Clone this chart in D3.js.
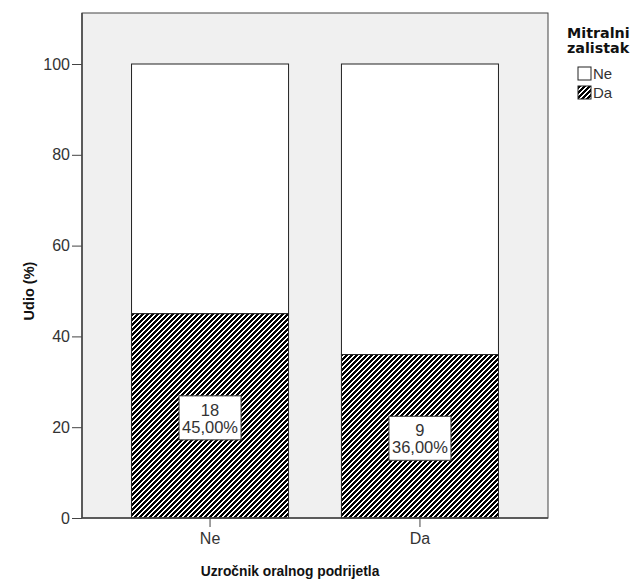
<!DOCTYPE html>
<html><head><meta charset="utf-8">
<script src="https://cdn.jsdelivr.net/npm/d3@7"></script>
<style>body{margin:0;background:#fff;}</style>
</head><body>
<svg id="c" width="631" height="579"></svg>
<script>
const categories = ["Ne", "Da"];
const seriesNames = ["Ne", "Da"];
const daCounts = [18, 9];
const daPercent = [45.00, 36.00];
const nePercent = [55.00, 64.00];
const yTicks = [0, 20, 40, 60, 80, 100];

const reg = "Liberation Sans, Arial, sans-serif";
const boldAx = "Liberation Sans, Arial, sans-serif";
const boldLg = "DejaVu Sans, Verdana, sans-serif";

const svg = d3.select("#c");
const frame = {l: 82, t: 13, r: 548, b: 518};
const y = d3.scaleLinear().domain([0, 100]).range([518, 64]);
const x = d3.scaleBand().domain(categories).range([82, 548]).paddingInner(0.252).paddingOuter(0.236);

// crisp pixel-aligned "/" hatch
const defs = svg.append("defs");
const N = 5, K = 3;
const pat = defs.append("pattern").attr("id","hatch").attr("patternUnits","userSpaceOnUse")
  .attr("x",0).attr("y",0).attr("width",N).attr("height",N);
pat.append("rect").attr("width",N).attr("height",N).attr("fill","#fff");
for (let i = 0; i < N; i++) for (let j = 0; j < N; j++) {
  if ((i + j) % N < K) pat.append("rect").attr("x",i).attr("y",j).attr("width",1).attr("height",1)
    .attr("fill","#000").attr("shape-rendering","crispEdges");
}

svg.append("rect").attr("x",frame.l).attr("y",frame.t).attr("width",frame.r-frame.l).attr("height",frame.b-frame.t)
  .attr("fill","#f0f0f0").attr("stroke","#444").attr("stroke-width",1);

const data = categories.map((c,i)=>({c, da:daPercent[i], ne:nePercent[i], n:daCounts[i]}));

svg.selectAll(".ne").data(data).join("rect")
  .attr("x", d=>x(d.c)).attr("width", x.bandwidth())
  .attr("y", d=>y(d.da+d.ne)).attr("height", d=>y(d.da)-y(d.da+d.ne))
  .attr("fill","#fff").attr("stroke","#222").attr("stroke-width",1);
svg.selectAll(".da").data(data).join("rect")
  .attr("x", d=>x(d.c)).attr("width", x.bandwidth())
  .attr("y", d=>y(d.da)).attr("height", d=>y(0)-y(d.da))
  .attr("fill","url(#hatch)").attr("stroke","#222").attr("stroke-width",1);

const fmt = v => v.toFixed(2).replace(".", ",") + "%";
const lab = svg.selectAll(".lab").data(data).join("g")
  .attr("transform", d=>`translate(${x(d.c)+x.bandwidth()/2},${y(d.da/2)})`);
lab.append("rect").attr("x",-31).attr("y",-20).attr("width",62).attr("height",44)
  .attr("fill","#fff").attr("stroke","#333").attr("stroke-width",1);
lab.append("text").attr("y",0).attr("text-anchor","middle").attr("font-family",reg).attr("font-size",16.5).attr("fill","#333").text(d=>d.n);
lab.append("text").attr("y",17).attr("text-anchor","middle").attr("font-family",reg).attr("font-size",16.5).attr("fill","#333").text(d=>fmt(d.da));

const ya = svg.append("g").attr("transform",`translate(${frame.l},0)`)
  .call(d3.axisLeft(y).tickValues(yTicks).tickSize(10).tickPadding(2));
ya.select(".domain").remove();
ya.selectAll("line").attr("stroke","#444");
ya.selectAll("text").attr("font-size",16).attr("fill","#333").attr("font-family",reg);
svg.append("line").attr("x1",frame.l).attr("x2",frame.l).attr("y1",frame.t).attr("y2",frame.b).attr("stroke","#444").attr("stroke-width",1.5);

const xa = svg.append("g").attr("transform",`translate(0,${frame.b})`)
  .call(d3.axisBottom(x).tickSize(9).tickPadding(6));
xa.select(".domain").remove();
xa.selectAll("line").attr("stroke","#444");
xa.selectAll("text").attr("font-size",16).attr("fill","#333").attr("font-family",reg);
svg.append("line").attr("x1",frame.l).attr("x2",frame.r).attr("y1",frame.b).attr("y2",frame.b).attr("stroke","#444").attr("stroke-width",1.5);

svg.append("text").attr("x",290).attr("y",576).attr("text-anchor","middle").attr("font-size",13.8)
  .attr("font-family",boldAx).attr("font-weight","bold").attr("fill","#111").text("Uzročnik oralnog podrijetla");
svg.append("text").attr("transform","translate(34,291) rotate(-90)").attr("text-anchor","middle").attr("font-size",14.5)
  .attr("font-family",boldAx).attr("font-weight","bold").attr("fill","#111").text("Udio (%)");

svg.append("text").attr("x",567).attr("y",38).attr("font-size",14.3).attr("font-family",boldLg).attr("font-weight","bold").attr("fill","#111").text("Mitralni");
svg.append("text").attr("x",567).attr("y",53).attr("font-size",14.3).attr("font-family",boldLg).attr("font-weight","bold").attr("fill","#111").text("zalistak");
const fills = ["#fff","url(#hatch)"];
const lg = svg.selectAll(".lg").data(seriesNames).join("g").attr("transform",(d,i)=>`translate(578,${67+i*19})`);
lg.append("rect").attr("width",13).attr("height",13).attr("fill",(d,i)=>fills[i]).attr("stroke","#222");
lg.append("text").attr("x",15).attr("y",12).attr("font-family",reg).attr("font-size",15).attr("fill","#333").text(d=>d);
</script>
</body></html>
